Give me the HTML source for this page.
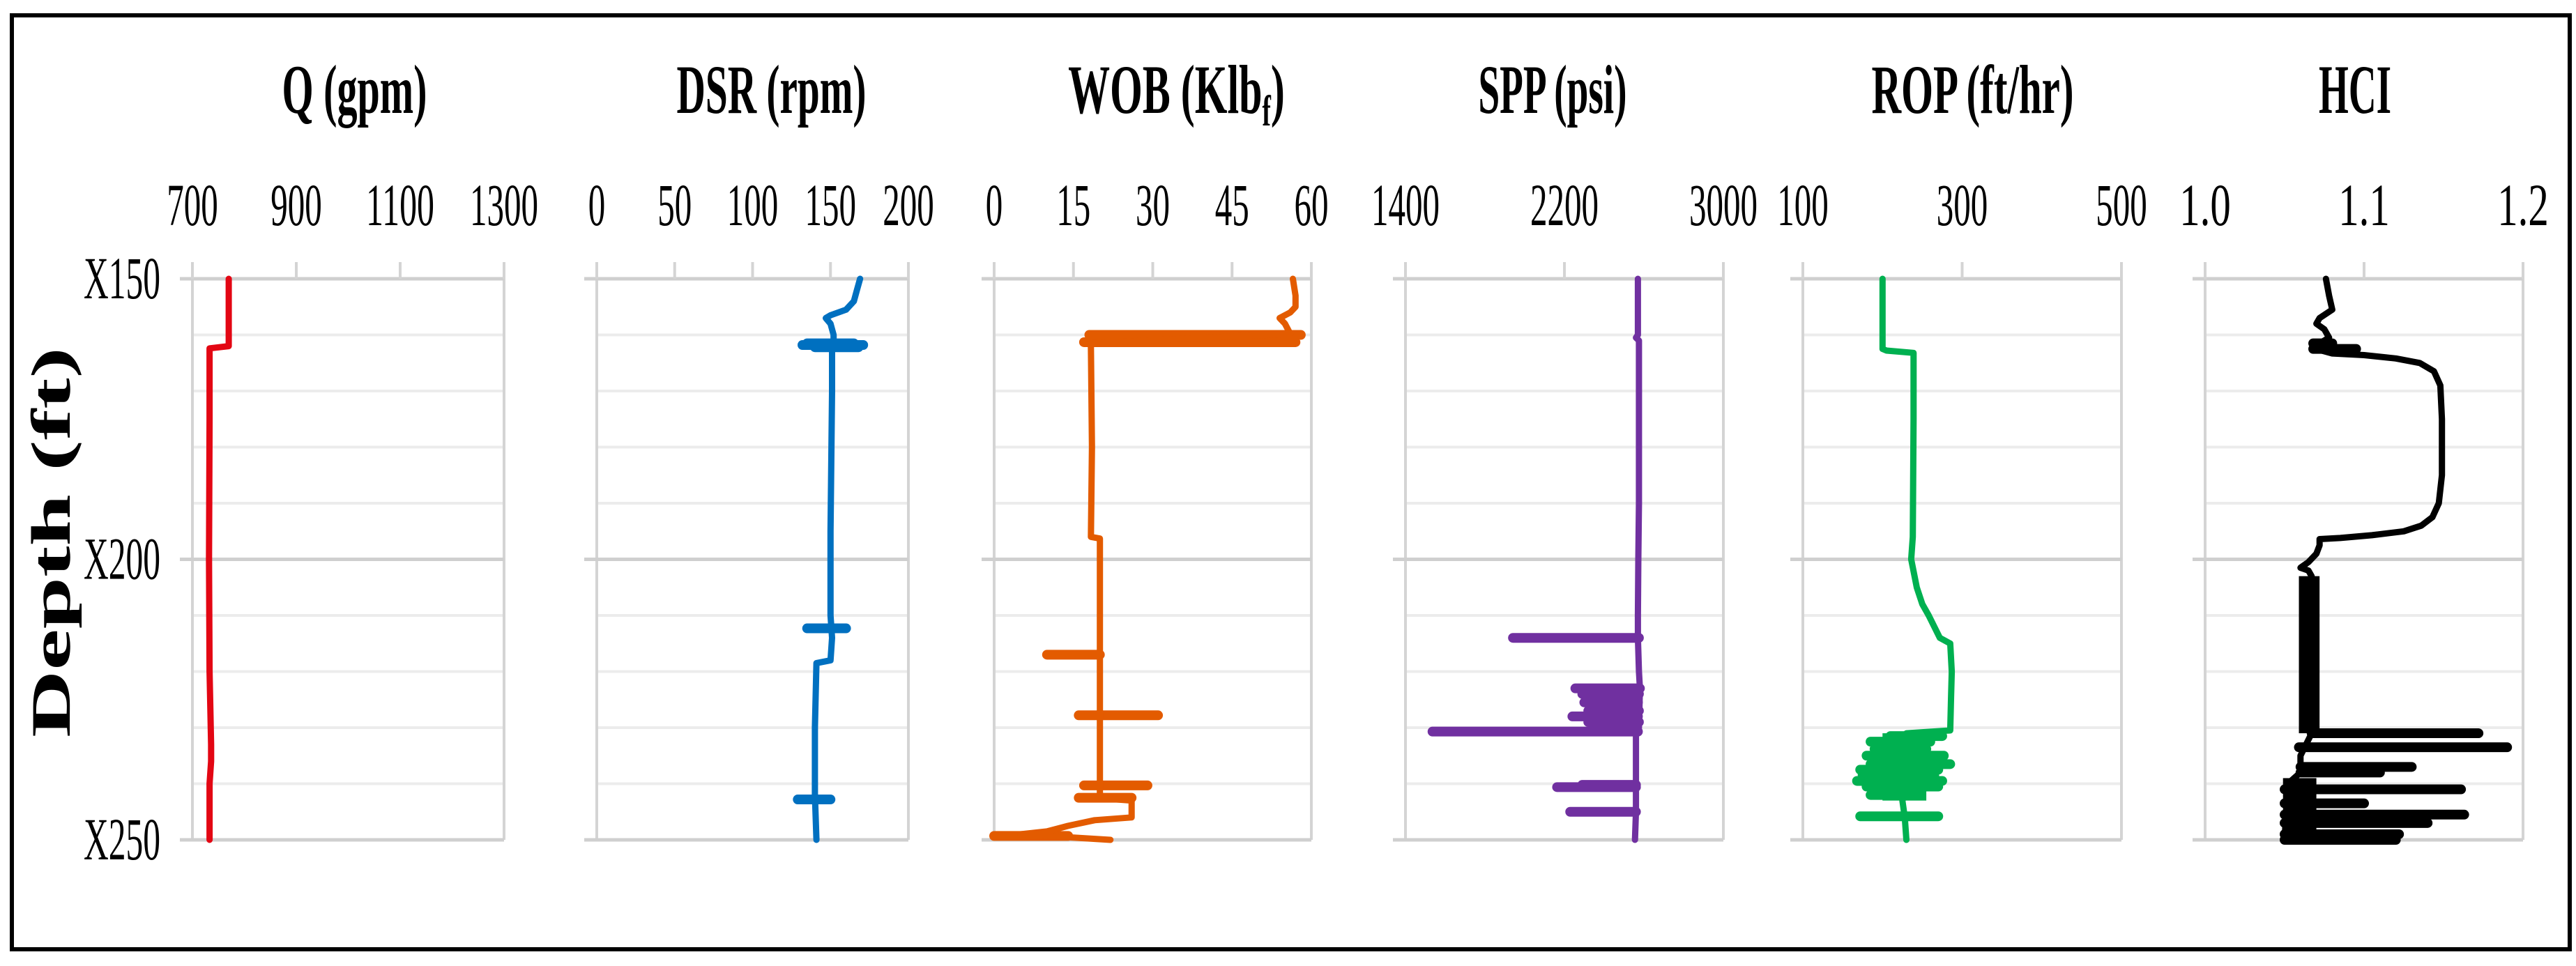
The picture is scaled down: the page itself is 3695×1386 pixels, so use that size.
<!DOCTYPE html>
<html><head><meta charset="utf-8"><style>
html,body{margin:0;padding:0;background:#fff;}
svg{display:block;}
text{font-family:"Liberation Serif",serif;fill:#000;}
</style></head><body>
<svg id="chart" width="3695" height="1386" viewBox="0 0 3695 1386">
<rect x="17" y="22" width="3669" height="1340" fill="#fff" stroke="#000" stroke-width="6"/>
<text x="0" y="0" font-size="80" font-weight="bold" textLength="560" lengthAdjust="spacingAndGlyphs" text-anchor="middle" transform="translate(100,778) rotate(-90)">Depth (ft)</text>
</svg>
<script>
// Depth axis
const depthTicks = [150, 200, 250];
const depthTickLabels = ["X150", "X200", "X250"];
const depthMinor = [160, 170, 180, 190, 210, 220, 230, 240];

// Q (gpm)
const qDepth = [150, 162, 162.4, 175, 200, 220, 233, 236, 240, 250];
const qVal = [770, 770, 733, 733, 732, 733, 736, 736, 733, 733];

// DSR (rpm)
const dsrDepth = [150, 152, 154, 155.5, 156.5, 157, 158, 160, 161.8, 162.5, 170, 195, 205, 210, 214, 218, 218.5, 230, 242, 250];
const dsrVal = [169, 167, 165, 160, 150, 147, 150, 152, 152, 151, 151, 150, 150, 150, 151, 150, 141, 140, 140, 141];
const dsrSpikeDepth = [161.5, 161.8, 162.2, 212.3, 242.8];
const dsrSpikeFrom = [135, 132, 140, 135, 129];
const dsrSpikeTo = [165, 171, 168, 160, 150];

// WOB (Klbf)
const wobDepth = [150, 153, 155, 156, 157, 158, 159.8, 160.5, 161.5, 162, 180, 196, 196.3, 210, 217, 227, 235, 240, 242, 242.5, 243, 246, 246.5, 247.5, 248.5, 249, 250];
const wobVal = [56.5, 57, 57, 56, 54, 55, 56, 40, 18, 18.3, 18.5, 18.3, 20, 20, 20, 20, 20, 20, 20, 19, 26, 26, 19, 14, 10, 5, 22];
const wobSpikeDepth = [160, 161.3, 217, 227.8, 240.3, 242.5, 249.3];
const wobSpikeFrom = [18, 17, 10, 16, 17, 16, 0];
const wobSpikeTo = [58, 57, 20, 31, 29, 26, 14];

// SPP (psi)
const sppDepth = [150, 160, 160.5, 161, 190, 200, 210, 214, 220, 223, 230, 231.5, 240, 245, 250];
const sppVal = [2570, 2570, 2560, 2575, 2575, 2572, 2570, 2570, 2575, 2580, 2575, 2560, 2560, 2560, 2555];
const sppSpikeDepth = [214, 223, 224, 225.5, 227, 228, 229, 230.7, 240.2, 240.6, 245];
const sppSpikeFrom = [1941, 2255, 2290, 2300, 2320, 2240, 2320, 1536, 2290, 2163, 2229];
const sppSpikeTo = [2575, 2580, 2575, 2570, 2575, 2570, 2575, 2570, 2560, 2560, 2560];
const sppBandDepth = [[223, 229.5]];
const sppBandVal = [[2430, 2575]];

// ROP (ft/hr)
const ropDepth = [150, 162.5, 162.8, 163.2, 175, 196, 200, 205, 208, 210, 212, 214, 215, 220, 225, 230.5, 231, 235, 240, 243, 246, 250];
const ropVal = [200, 200, 205, 239, 239, 238, 236, 243, 250, 258, 265, 272, 285, 287, 286, 285, 230, 235, 232, 225, 228, 230];
const ropSpikeDepth = [231.5, 232.5, 233.8, 235, 236.5, 237.5, 238.5, 239.5, 240.5, 242, 245.8];
const ropSpikeFrom = [210, 185, 190, 180, 185, 172, 175, 168, 180, 185, 172];
const ropSpikeTo = [275, 260, 255, 277, 285, 270, 265, 275, 270, 225, 270];
const ropBandDepth = [[231, 243]];
const ropBandVal = [[200, 255]];

// HCI
const hciDepth = [150, 153, 155.5, 157, 158, 159, 160.5, 161.5, 162.7, 163.3, 163.6, 164.2, 165, 166.5, 169, 175, 185, 190, 192.5, 194, 195, 195.7, 196.2, 196.4, 197.5, 199, 200.5, 201.5, 202, 203, 231, 235, 238, 240, 250];
const hciVal = [1.076, 1.078, 1.08, 1.072, 1.07, 1.075, 1.078, 1.072, 1.072, 1.08, 1.1, 1.12, 1.135, 1.144, 1.148, 1.149, 1.149, 1.147, 1.143, 1.136, 1.125, 1.105, 1.085, 1.072, 1.072, 1.07, 1.065, 1.06, 1.065, 1.067, 1.067, 1.06, 1.06, 1.052, 1.05];
const hciSpikeDepth = [161.5, 162.5, 231, 233.5, 237, 238, 241, 243.5, 245.5, 247, 249, 250];
const hciSpikeFrom = [1.068, 1.068, 1.067, 1.059, 1.06, 1.06, 1.05, 1.05, 1.05, 1.05, 1.05, 1.05];
const hciSpikeTo = [1.08, 1.095, 1.172, 1.19, 1.13, 1.11, 1.161, 1.10, 1.163, 1.14, 1.122, 1.12];
const hciBandDepth = [[203, 231], [239, 250]];
const hciBandVal = [[1.059, 1.072], [1.049, 1.07]];

const panels = [
  {key:"q", title:"Q (gpm)", tw:208, min:700, max:1300, ticks:[700,900,1100,1300], left:276, right:723, color:"#e30613", depth:qDepth, val:qVal},
  {key:"dsr", title:"DSR (rpm)", tw:272, min:0, max:200, ticks:[0,50,100,150,200], left:856, right:1303, color:"#0070c0", depth:dsrDepth, val:dsrVal, sd:dsrSpikeDepth, sf:dsrSpikeFrom, st:dsrSpikeTo},
  {key:"wob", title:"WOB", tw:307, min:0, max:60, ticks:[0,15,30,45,60], left:1426, right:1881, color:"#e35b00", depth:wobDepth, val:wobVal, sd:wobSpikeDepth, sf:wobSpikeFrom, st:wobSpikeTo},
  {key:"spp", title:"SPP (psi)", tw:213, min:1400, max:3000, ticks:[1400,2200,3000], left:2016, right:2472, color:"#7030a0", depth:sppDepth, val:sppVal, sd:sppSpikeDepth, sf:sppSpikeFrom, st:sppSpikeTo, bd:sppBandDepth, bv:sppBandVal},
  {key:"rop", title:"ROP (ft/hr)", tw:290, min:100, max:500, ticks:[100,300,500], left:2586, right:3043, color:"#00b050", depth:ropDepth, val:ropVal, sd:ropSpikeDepth, sf:ropSpikeFrom, st:ropSpikeTo, bd:ropBandDepth, bv:ropBandVal},
  {key:"hci", title:"HCI", tw:104, min:1.0, max:1.2, ticks:[1.0,1.1,1.2], left:3163, right:3619, color:"#000000", depth:hciDepth, val:hciVal, sd:hciSpikeDepth, sf:hciSpikeFrom, st:hciSpikeTo, bd:hciBandDepth, bv:hciBandVal, dec:1}
];

const NS = "http://www.w3.org/2000/svg";
const svg = document.getElementById("chart");
const TOP = 400, BOT = 1205;
function yScale(d){ return TOP + (d - 150) / 100 * (BOT - TOP); }
function mk(tag, attrs, parent){
  const e = document.createElementNS(NS, tag);
  for (const k in attrs) e.setAttribute(k, attrs[k]);
  (parent || svg).appendChild(e);
  return e;
}

panels.forEach(p => {
  const xs = v => p.left + (v - p.min) / (p.max - p.min) * (p.right - p.left);
  const g = mk("g", {});
  
  
  depthMinor.forEach(d => {
    const l = mk("line", {x1:p.left, x2:p.right, y1:yScale(d), y2:yScale(d), stroke:"#ececec", "stroke-width":4}, g);
    
    
  });
  [p.left, p.right].forEach(x => {
    const l = mk("line", {x1:x, x2:x, y1:TOP - 24, y2:BOT, stroke:"#d4d4d4", "stroke-width":4}, g);
    
    
  });
  depthTicks.forEach(d => {
    const l = mk("line", {x1:p.left - 18, x2:p.right, y1:yScale(d), y2:yScale(d), stroke:"#cfcfcf", "stroke-width":5}, g);
    
    
  });
  p.ticks.forEach(t => {
    const x = xs(t);
    const l = mk("line", {x1:x, x2:x, y1:TOP - 24, y2:TOP, stroke:"#d4d4d4", "stroke-width":4}, g);
    
    
    const s = p.dec ? t.toFixed(1) : String(t);
    const tx = mk("text", {x:x, y:323, "font-size":86, "text-anchor":"middle", textLength:s.length * 24.5, lengthAdjust:"spacingAndGlyphs"}, g);
    tx.textContent = s;
    
    
  });
  const cx = (p.left + p.right) / 2 + (p.key === "q" ? 9 : p.key === "dsr" ? 27 : p.key === "wob" ? 34 : p.key === "spp" ? -17 : p.key === "rop" ? 15 : -13);
  let tt;
  if (p.key === "wob") {
    const tg = mk("g", {transform:"translate(" + cx + ",162) scale(0.6,1)"}, g);
    tt = mk("text", {x:0, y:0, "font-size":100, "font-weight":"bold", "text-anchor":"middle"}, tg);
    tt.appendChild(document.createTextNode("WOB (Klb"));
    const sub = mk("tspan", {"font-size":62, dy:18}, tt);
    sub.textContent = "f";
    const cl = mk("tspan", {dy:-18}, tt);
    cl.textContent = ")";
  } else {
    tt = mk("text", {x:cx, y:162, "font-size":100, "font-weight":"bold", "text-anchor":"middle", textLength:p.tw, lengthAdjust:"spacingAndGlyphs"}, g);
    tt.textContent = p.title;
  }
  
  
  (p.bd || []).forEach((b, i) => {
    const r = mk("rect", {x:xs(p.bv[i][0]), y:yScale(b[0]), width:xs(p.bv[i][1]) - xs(p.bv[i][0]), height:yScale(b[1]) - yScale(b[0]), fill:p.color}, g);
    
    
  });
  (p.sd || []).forEach((d, i) => {
    const l = mk("line", {x1:xs(p.sf[i]), x2:xs(p.st[i]), y1:yScale(d), y2:yScale(d), stroke:p.color, "stroke-width":14, "stroke-linecap":"round"}, g);
    
    
  });
  const pts = p.depth.map((d, i) => xs(p.val[i]).toFixed(1) + "," + yScale(d).toFixed(1)).join(" ");
  const pl = mk("polyline", {points:pts, fill:"none", stroke:p.color, "stroke-width":9, "stroke-linejoin":"round", "stroke-linecap":"round"}, g);
  
  
});

depthTicks.forEach((d, i) => {
  const t = mk("text", {x:230, y:yScale(d) + 28, "font-size":86, "text-anchor":"end", textLength:110, lengthAdjust:"spacingAndGlyphs"});
  t.textContent = depthTickLabels[i];
  
  
});
</script>
</body></html>
